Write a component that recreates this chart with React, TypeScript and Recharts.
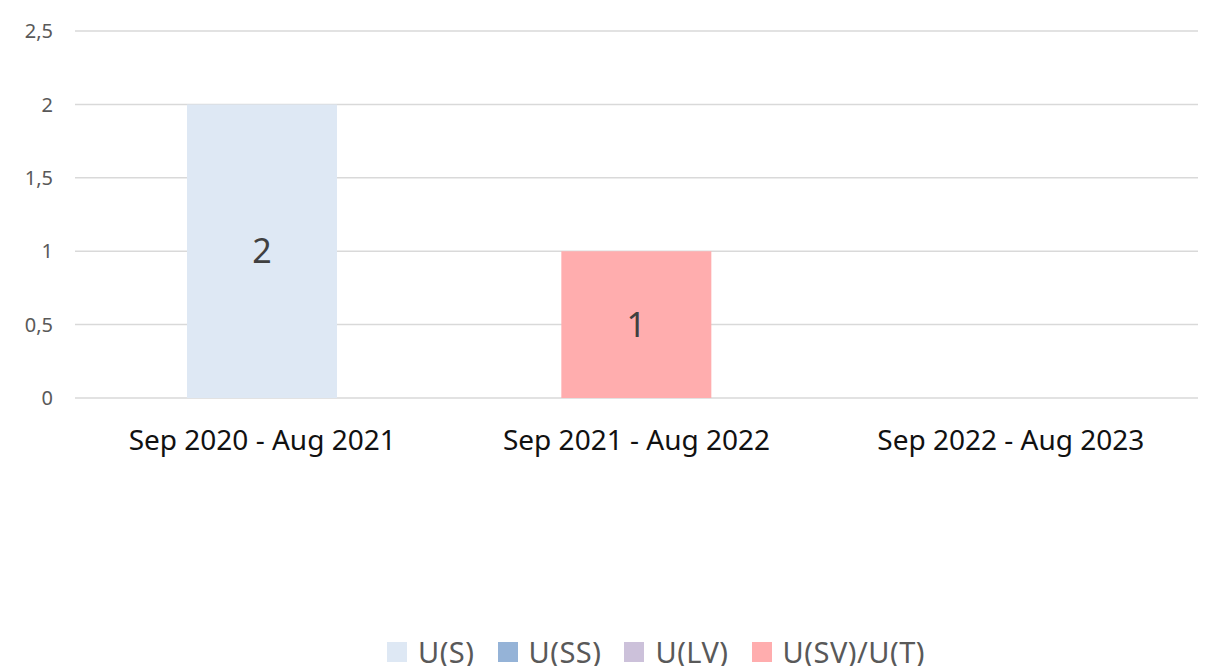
import React from 'react';
import { BarChart, Bar, XAxis, YAxis, CartesianGrid, Legend, LabelList } from 'recharts';

const periods = ['Sep 2020 - Aug 2021', 'Sep 2021 - Aug 2022', 'Sep 2022 - Aug 2023'];
const uS = [2, null, null];
const uSS = [null, null, null];
const uLV = [null, null, null];
const uSVT = [null, 1, null];
const yTicks = [0, 0.5, 1, 1.5, 2, 2.5];

const SERIES = [
  { key: 'uS', name: 'U(S)', color: '#DEE8F4' },
  { key: 'uSS', name: 'U(SS)', color: '#95B3D7' },
  { key: 'uLV', name: 'U(LV)', color: '#CCC1DA' },
  { key: 'uSVT', name: 'U(SV)/U(T)', color: '#FFADAE' },
];

const data = periods.map((period, i) => ({
  period,
  uS: uS[i],
  uSS: uSS[i],
  uLV: uLV[i],
  uSVT: uSVT[i],
}));

const FONT = '"Noto Sans", "Open Sans", sans-serif';

function formatComma(v: number): string {
  return String(v).replace('.', ',');
}

function LegendContent() {
  return (
    <div style={{ display: 'flex', justifyContent: 'center', alignItems: 'center', gap: 23, paddingLeft: 98 }}>
      {SERIES.map((s) => (
        <div key={s.key} style={{ display: 'flex', alignItems: 'center', gap: 11 }}>
          <span style={{ display: 'inline-block', width: 20, height: 20, background: s.color }} />
          <span style={{ fontFamily: FONT, fontSize: 29, color: '#595959', lineHeight: '32px', letterSpacing: 0.5 }}>
            {s.name}
          </span>
        </div>
      ))}
    </div>
  );
}

export default function App() {
  return (
    <div style={{ position: 'absolute', left: 0, top: 0, width: 1214, height: 666, background: '#fff', overflow: 'hidden' }}>
      <BarChart
        width={1214}
        height={666}
        data={data}
        margin={{ top: 31, right: 16, left: 0, bottom: 200 }}
      >
        <CartesianGrid stroke="#D9D9D9" strokeWidth={1.5} vertical={false} />
        <XAxis
          dataKey="period"
          axisLine={false}
          tickLine={false}
          tick={{ fontFamily: FONT, fontSize: 28, fill: '#111' }}
          tickMargin={26}
          height={36}
        />
        <YAxis
          domain={[0, 2.5]}
          ticks={yTicks}
          tickFormatter={formatComma}
          axisLine={false}
          tickLine={false}
          width={75}
          tickMargin={16}
          tick={{ fontFamily: FONT, fontSize: 20, fill: '#595959' }}
        />
        <Legend
          verticalAlign="bottom"
          content={<LegendContent />}
          wrapperStyle={{ top: 636, left: 0, width: 1214, height: 32 }}
        />
        {SERIES.map((s) => (
          <Bar key={s.key} dataKey={s.key} name={s.name} stackId="a" fill={s.color} barSize={150} isAnimationActive={false}>
            <LabelList
              dataKey={s.key}
              position="center"
              style={{ fontFamily: FONT, fontSize: 34, fill: '#404040' }}
            />
          </Bar>
        ))}
      </BarChart>
    </div>
  );
}
